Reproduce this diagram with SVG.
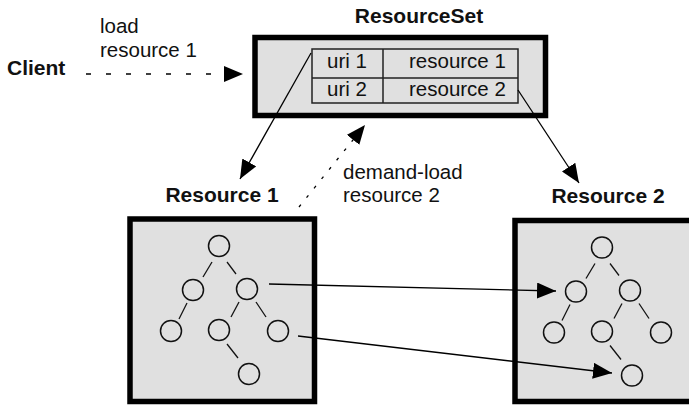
<svg xmlns="http://www.w3.org/2000/svg" xmlns:xlink="http://www.w3.org/1999/xlink" width="689" height="405" viewBox="0 0 689 405">
<style>
text{font-family:"Liberation Sans",Arial,sans-serif;font-size:20.5px;fill:#111}
.b{font-weight:bold;font-size:21px}
.box{fill:#e0e0e0;stroke:#000;stroke-width:5.5}
.tbl{fill:#e0e0e0;stroke:#222;stroke-width:1.5}
.tl{stroke:#222;stroke-width:1.5}
.n{fill:none;stroke:#111;stroke-width:1.5}
.e{stroke:#111;stroke-width:1.3}
.c{stroke:#000;stroke-width:1.3;fill:none}
</style>
<defs>
<marker id="ah" markerUnits="userSpaceOnUse" markerWidth="19" markerHeight="16" refX="19" refY="8" orient="auto">
<path d="M0,0 L19,8 L0,16 z" fill="#000"/>
</marker>
<g id="tree">
<circle class="n" cx="219" cy="246" r="10.5"/>
<circle class="n" cx="193" cy="290" r="10.5"/>
<circle class="n" cx="247" cy="289" r="10.5"/>
<circle class="n" cx="171" cy="331" r="10.5"/>
<circle class="n" cx="219" cy="330" r="10.5"/>
<circle class="n" cx="278" cy="331" r="10.5"/>
<circle class="n" cx="249" cy="374" r="10.5"/>
<line class="e" x1="212" y1="262" x2="203" y2="277"/>
<line class="e" x1="227" y1="262" x2="236" y2="274"/>
<line class="e" x1="187" y1="303" x2="179" y2="319"/>
<line class="e" x1="239" y1="302" x2="231" y2="317"/>
<line class="e" x1="256" y1="302" x2="266" y2="317"/>
<line class="e" x1="227" y1="344" x2="238" y2="358"/>
</g>
</defs>
<g id="client">
<text class="b" x="7" y="75">Client</text>
</g>
<g id="resourceset">
<text class="b" x="419" y="23" text-anchor="middle">ResourceSet</text>
<rect class="box" x="255" y="37.5" width="290.5" height="78"/>
<rect class="tbl" x="312" y="49" width="206" height="54"/>
<line class="tl" x1="312" y1="78" x2="518" y2="78"/>
<line class="tl" x1="383" y1="49" x2="383" y2="103"/>
<text x="327" y="68">uri 1</text>
<text x="409" y="68">resource 1</text>
<text x="327" y="96">uri 2</text>
<text x="409" y="96">resource 2</text>
</g>
<g id="resource1">
<text class="b" x="222" y="202" text-anchor="middle">Resource 1</text>
<rect class="box" x="130" y="219" width="184.5" height="182.5"/>
<use xlink:href="#tree"/>
</g>
<g id="resource2">
<text class="b" x="608" y="203" text-anchor="middle">Resource 2</text>
<rect class="box" x="515" y="220.5" width="184" height="181"/>
<use xlink:href="#tree" transform="translate(383,1.5)"/>
</g>
<g id="connectors">
<line class="c" x1="86" y1="74" x2="243" y2="74" stroke-dasharray="5 15" marker-end="url(#ah)"/>
<text x="100" y="33">load</text>
<text x="100" y="57">resource 1</text>
<line class="c" x1="311" y1="53" x2="240" y2="179" marker-end="url(#ah)"/>
<line class="c" x1="518" y1="90" x2="579" y2="183" marker-end="url(#ah)"/>
<line class="c" x1="299" y1="207" x2="365" y2="125" stroke-dasharray="3 9" marker-end="url(#ah)"/>
<text x="343" y="179">demand-load</text>
<text x="343" y="202">resource 2</text>
<line class="c" x1="269" y1="284" x2="556" y2="291" marker-end="url(#ah)"/>
<line class="c" x1="298" y1="336" x2="612" y2="373" marker-end="url(#ah)"/>
</g>
</svg>
